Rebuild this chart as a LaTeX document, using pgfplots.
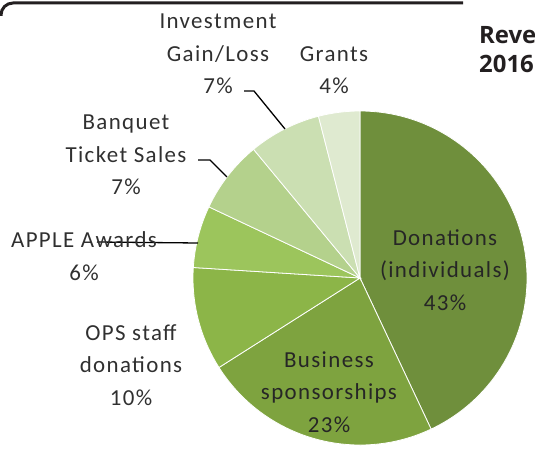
\documentclass[border=0pt]{standalone}
\usepackage{pgfplots}
\pgfplotsset{compat=1.18}
\usepackage{pgfplotstable}
\usepackage{fontspec}
\setmainfont{Carlito}[LetterSpace=6]
\newfontfamily\titlefont{Open Sans}

\definecolor{cDon}{HTML}{6F8F3C}
\definecolor{cBus}{HTML}{7EA33F}
\definecolor{cOps}{HTML}{8CB548}
\definecolor{cApp}{HTML}{9CC55C}
\definecolor{cBan}{HTML}{B4D18C}
\definecolor{cInv}{HTML}{CBDFB2}
\definecolor{cGra}{HTML}{DFEAD0}
\definecolor{txt}{HTML}{303030}
\definecolor{ink}{HTML}{231F20}

% revenue shares, clockwise from 12 o'clock
\pgfplotstableread{
share col
43 cDon
23 cBus
10 cOps
6  cApp
7  cBan
7  cInv
4  cGra
}\revenue

\begin{document}
\begin{tikzpicture}
\clip (0,0) rectangle (535bp,449bp);
\begin{axis}[
    at={(0,0)}, anchor=south west,
    x=1bp, y=1bp,
    xmin=-360, xmax=175,
    ymin=-171, ymax=278,
    hide axis,
    clip=false,
]
\gdef\curang{90}
\pgfplotsforeachungrouped \i in {0,...,6}{%
    \pgfplotstablegetelem{\i}{share}\of\revenue \let\sh=\pgfplotsretval
    \pgfplotstablegetelem{\i}{col}\of\revenue \let\cl=\pgfplotsretval
    \pgfmathsetmacro\endang{\curang-3.6*\sh}%
    \edef\wedge{\noexpand\fill[fill=\cl, draw=white, line width=0.8bp]
        (axis cs:0,0) -- (axis cs:{167*cos(\curang)},{167*sin(\curang)})
        arc[start angle=\curang, end angle=\endang, radius=167bp] -- cycle;}%
    \wedge
    \global\let\curang=\endang
}

% frame line at the top
\draw[ink, line width=3bp, rounded corners=12bp]
    (axis cs:-359,262) -- (axis cs:-359,275) -- (axis cs:103,275);

% leader lines
\draw[black, line width=1.3bp] (axis cs:-116,187) -- (axis cs:-106,187) -- (axis cs:-75,149);
\draw[black, line width=1.3bp] (axis cs:-162,118) -- (axis cs:-150,118) -- (axis cs:-133,101);
\draw[black, line width=1.3bp] (axis cs:-263,36) -- (axis cs:-162,35);

\tikzset{lab/.style={align=center, inner sep=0pt, font=\fontsize{23}{32.5}\selectfont}}
\node[lab, txt] at (axis cs:-142,224) {Investment\\Gain/Loss\\7\%};
\node[lab, txt] at (axis cs:-26,208) {Grants\\4\%};
\node[lab, txt] at (axis cs:-234,123) {Banquet\\Ticket Sales\\7\%};
\node[lab, txt] at (axis cs:-276,22) {APPLE Awards\\6\%};
\node[lab, txt] at (axis cs:-229,-87) {OPS staff\\donations\\10\%};
\node[lab, black!85] at (axis cs:-31,-114) {Business\\sponsorships\\23\%};
\node[lab, black!85] at (axis cs:85,8) {Donations\\(individuals)\\43\%};

% title, cut off at the right edge as in the source
\node[anchor=base west, inner sep=0pt, align=left, ink,
      font=\titlefont\bfseries\fontsize{24}{30}\selectfont]
    at (axis cs:119,205) {Revenue\\2016};
\end{axis}
\end{tikzpicture}
\end{document}
